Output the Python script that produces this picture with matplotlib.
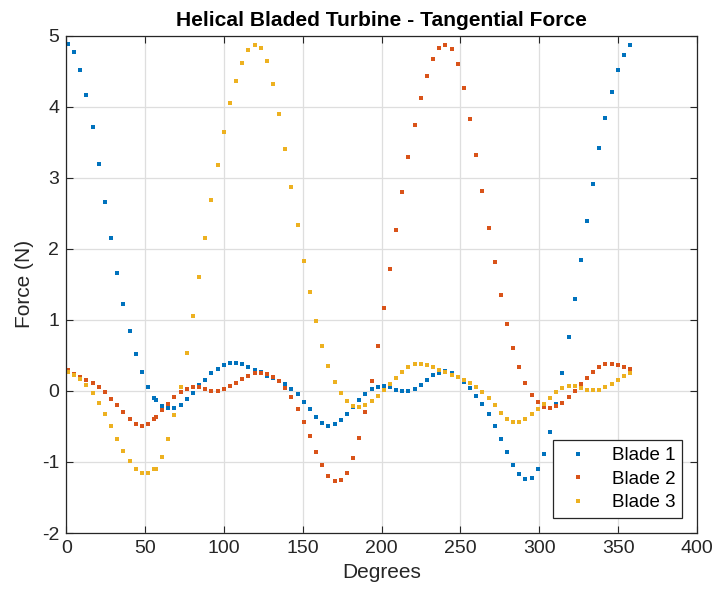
import numpy as np
import matplotlib
matplotlib.use("Agg")
import matplotlib.pyplot as plt

plt.rcParams['font.family'] = ['Liberation Sans', 'DejaVu Sans']
plt.rcParams['axes.unicode_minus'] = False

# Sample positions (degrees): a first run and a second run (note the close pair near 56 deg)
deg_first = np.linspace(1.1, 55.8, 15)
deg_second = np.linspace(56.9, 357.6, 78)
degrees = np.concatenate([deg_first, deg_second])

blade1 = [4.876, 4.764, 4.515, 4.163, 3.708, 3.193, 2.663, 2.147, 1.659, 1.218, 0.843, 0.524, 0.261, 0.055, -0.095,
          -0.123, -0.208, -0.245, -0.245, -0.198, -0.119, -0.030, 0.078, 0.155, 0.245,
          0.313, 0.369, 0.393, 0.393, 0.379, 0.341, 0.299, 0.261, 0.210, 0.177,
          0.137, 0.092, 0.031, -0.048, -0.152, -0.259, -0.372, -0.452, -0.494, -0.470,
          -0.409, -0.320, -0.222, -0.133, -0.039, 0.022, 0.060, 0.069, 0.050, 0.017,
          -0.001, 0.003, 0.031, 0.088, 0.153, 0.219, 0.257, 0.275, 0.252, 0.200,
          0.121, 0.036, -0.067, -0.189, -0.330, -0.494, -0.681, -0.866, -1.038, -1.169,
          -1.240, -1.221, -1.104, -0.888, -0.583, -0.189, 0.252, 0.758, 1.293, 1.842,
          2.391, 2.916, 3.413, 3.835, 4.210, 4.511, 4.731, 4.862]

blade2 = [0.294, 0.233, 0.200, 0.153, 0.111, 0.055, -0.020, -0.109, -0.198, -0.302, -0.400, -0.461, -0.494, -0.461, -0.391,
          -0.363, -0.273, -0.180, -0.086, -0.015, 0.031, 0.060, 0.060, 0.025, 0.005,
          0.005, 0.027, 0.069, 0.116, 0.172, 0.214, 0.247, 0.247, 0.233, 0.191,
          0.139, 0.036, -0.086, -0.250, -0.433, -0.635, -0.855, -1.047, -1.193, -1.268,
          -1.256, -1.150, -0.949, -0.663, -0.297, 0.139, 0.632, 1.162, 1.711, 2.264,
          2.794, 3.291, 3.746, 4.126, 4.435, 4.665, 4.820, 4.872, 4.806, 4.600,
          4.262, 3.826, 3.324, 2.808, 2.297, 1.818, 1.345, 0.941, 0.604, 0.332,
          0.106, -0.053, -0.156, -0.222, -0.245, -0.217, -0.166, -0.090, -0.001, 0.092,
          0.177, 0.261, 0.336, 0.374, 0.379, 0.369, 0.341, 0.308]

blade3 = [0.271, 0.224, 0.167, 0.083, -0.025, -0.166, -0.325, -0.499, -0.677, -0.841, -0.986, -1.094, -1.155, -1.155, -1.094,
          -1.094, -0.935, -0.681, -0.344, 0.060, 0.538, 1.052, 1.600, 2.147, 2.686,
          3.183, 3.638, 4.046, 4.360, 4.614, 4.792, 4.872, 4.829, 4.647, 4.323,
          3.892, 3.399, 2.874, 2.334, 1.832, 1.392, 0.984, 0.636, 0.355, 0.130,
          -0.034, -0.142, -0.217, -0.222, -0.203, -0.142, -0.076, 0.008, 0.097, 0.186,
          0.271, 0.336, 0.379, 0.383, 0.369, 0.341, 0.294, 0.261, 0.228, 0.191,
          0.153, 0.116, 0.060, -0.015, -0.107, -0.200, -0.306, -0.393, -0.438, -0.438,
          -0.400, -0.330, -0.259, -0.180, -0.095, -0.020, 0.036, 0.069, 0.074, 0.036,
          0.017, 0.013, 0.017, 0.050, 0.097, 0.153, 0.210, 0.257]

series = [("Blade 1", blade1, "#0072BD"),
          ("Blade 2", blade2, "#D95319"),
          ("Blade 3", blade3, "#EDB120")]

xticks = [0, 50, 100, 150, 200, 250, 300, 350, 400]
yticks = [-2, -1, 0, 1, 2, 3, 4, 5]

fig = plt.figure(figsize=(7.15, 5.97), dpi=100)
ax = fig.add_axes([0.0927, 0.1072, 0.9748 - 0.0927, 0.9405 - 0.1072])

for name, vals, col in series:
    ax.plot(degrees, vals, linestyle='none', marker='s', markersize=2.6,
            markeredgewidth=0, color=col, label=name)

ax.set_xlim(0, 400)
ax.set_ylim(-2, 5)
ax.set_xticks(xticks)
ax.set_yticks(yticks)
ax.grid(True, color='#dedede', linewidth=0.9)
ax.set_axisbelow(True)
ax.tick_params(direction='in', length=5, width=0.8, top=True, right=True,
               labelsize=14, colors='#262626', pad=5)
for sp in ax.spines.values():
    sp.set_color('#262626')
    sp.set_linewidth(0.9)

ax.set_title("Helical Bladed Turbine - Tangential Force", fontsize=15.1,
             fontweight='bold', pad=7)
ax.set_xlabel("Degrees", fontsize=15, color='#262626', labelpad=4)
ax.set_ylabel("Force (N)", fontsize=15, color='#262626', labelpad=6)

leg = ax.legend(loc='lower right', fontsize=13.5, frameon=True, fancybox=False,
                edgecolor='#262626', framealpha=1, markerscale=1.0,
                handlelength=2.0, handletextpad=0.8, borderaxespad=0.8,
                labelspacing=0.35, borderpad=0.35)
leg.get_frame().set_linewidth(0.9)

fig.savefig("out.png", dpi=100)
